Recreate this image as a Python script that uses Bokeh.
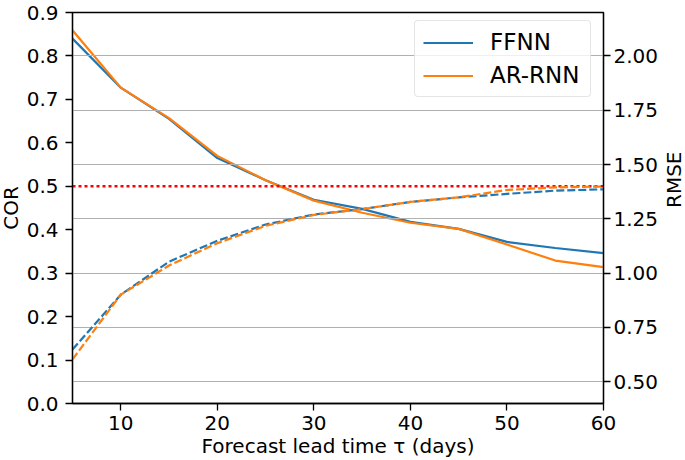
import math
from bokeh.plotting import figure
from bokeh.models import (Range1d, LinearAxis, Span, Legend, LegendItem, Grid,
                          FixedTicker, NumeralTickFormatter)
from bokeh.embed import file_html
from bokeh.resources import INLINE

# ---- data ----
lead_days = [5, 10, 15, 20, 25, 30, 35, 40, 45, 50, 55, 60]
cor_ffnn = [0.840, 0.727, 0.655, 0.565, 0.514, 0.469, 0.448, 0.418, 0.402, 0.372, 0.358, 0.346]
cor_arrnn = [0.859, 0.727, 0.657, 0.570, 0.514, 0.467, 0.439, 0.416, 0.402, 0.366, 0.329, 0.314]
rmse_ffnn = [0.649, 0.901, 1.053, 1.149, 1.224, 1.270, 1.295, 1.328, 1.349, 1.365, 1.380, 1.386]
rmse_arrnn = [0.603, 0.901, 1.035, 1.138, 1.218, 1.268, 1.295, 1.328, 1.349, 1.383, 1.395, 1.399]
cor_threshold = 0.5

x_ticks = [10, 20, 30, 40, 50, 60]
cor_ticks = [0.0, 0.1, 0.2, 0.3, 0.4, 0.5, 0.6, 0.7, 0.8, 0.9]
rmse_ticks = [0.50, 0.75, 1.00, 1.25, 1.50, 1.75, 2.00]

series_names = ["FFNN", "AR-RNN"]
colors = ["#1f77b4", "#ff7f0e"]

FONT = "DejaVu Sans"
TICK_SIZE = "20px"

p = figure(frame_width=531, frame_height=391,
           x_range=Range1d(5, 60), y_range=Range1d(0, 0.9),
           output_backend="svg", toolbar_location=None,
           min_border_left=72, min_border_top=20, min_border_right=10,
           min_border_bottom=30)
p.styles = {"position": "absolute", "top": "-8px", "left": "-5px"}
p.extra_y_ranges = {"rmse": Range1d(0.4, 2.2)}
p.xgrid.visible = False
p.ygrid.visible = False
p.outline_line_color = "black"
p.outline_line_width = 1.3
p.background_fill_color = "white"
p.border_fill_color = "white"


def style_axis(ax, fmt, ticks):
    ax.ticker = FixedTicker(ticks=ticks)
    ax.formatter = NumeralTickFormatter(format=fmt)
    ax.major_label_text_font = FONT
    ax.major_label_text_font_size = TICK_SIZE
    ax.major_label_text_color = "black"
    ax.axis_label_text_font = FONT
    ax.axis_label_text_font_size = TICK_SIZE
    ax.axis_label_text_font_style = "normal"
    ax.axis_label_text_color = "black"
    ax.major_tick_out = 7
    ax.major_tick_in = 0
    ax.minor_tick_line_color = None
    ax.major_tick_line_color = "black"
    ax.major_tick_line_width = 1.3
    ax.axis_line_color = "black"
    ax.axis_line_width = 1.3
    ax.major_label_standoff = 3


xa = p.xaxis[0]
style_axis(xa, "0", x_ticks)
xa.axis_label = "Forecast lead time τ (days)"
xa.major_label_standoff = 5
xa.axis_label_standoff = 1

ya = p.yaxis[0]
style_axis(ya, "0.0", cor_ticks)
ya.axis_label = "COR"
ya.major_label_standoff = 7
ya.axis_label_standoff = 1

ra = LinearAxis(y_range_name="rmse")
style_axis(ra, "0.00", rmse_ticks)
ra.axis_label = "RMSE"
ra.axis_label_standoff = 13
ra.axis_label_orientation = math.pi / 2
p.add_layout(ra, "right")

grid = Grid(dimension=1, ticker=FixedTicker(ticks=rmse_ticks), y_range_name="rmse",
            grid_line_color="#b0b0b0", grid_line_width=1.2, level="underlay")
p.add_layout(grid)

span = Span(location=cor_threshold, dimension="width", line_color="red",
            line_width=2.5, line_dash="3 3", level="underlay")
p.add_layout(span)

cor_series = [cor_ffnn, cor_arrnn]
rmse_series = [rmse_ffnn, rmse_arrnn]
solid_renderers = []
for vals, c in zip(cor_series, colors):
    r = p.line(lead_days, vals, line_color=c, line_width=2.2, level="image")
    solid_renderers.append(r)
for vals, c in zip(rmse_series, colors):
    p.line(lead_days, vals, line_color=c, line_width=2.2, line_dash="8 3",
           y_range_name="rmse", level="glyph")

legend = Legend(items=[LegendItem(label=n, renderers=[r])
                       for n, r in zip(series_names, solid_renderers)],
                location=(342, 306), level="image")
legend.label_text_font = FONT
legend.label_text_font_size = "23px"
legend.label_text_color = "black"
legend.glyph_width = 50
legend.glyph_height = 25
legend.label_height = 25
legend.label_width = 92
legend.label_standoff = 17
legend.padding = 8
legend.spacing = 7
legend.border_line_color = "#cccccc"
legend.border_line_width = 1
legend.border_radius = 4
legend.background_fill_color = "white"
legend.background_fill_alpha = 0.8
p.add_layout(legend)

open("out.html", "w").write(file_html(p, INLINE))
